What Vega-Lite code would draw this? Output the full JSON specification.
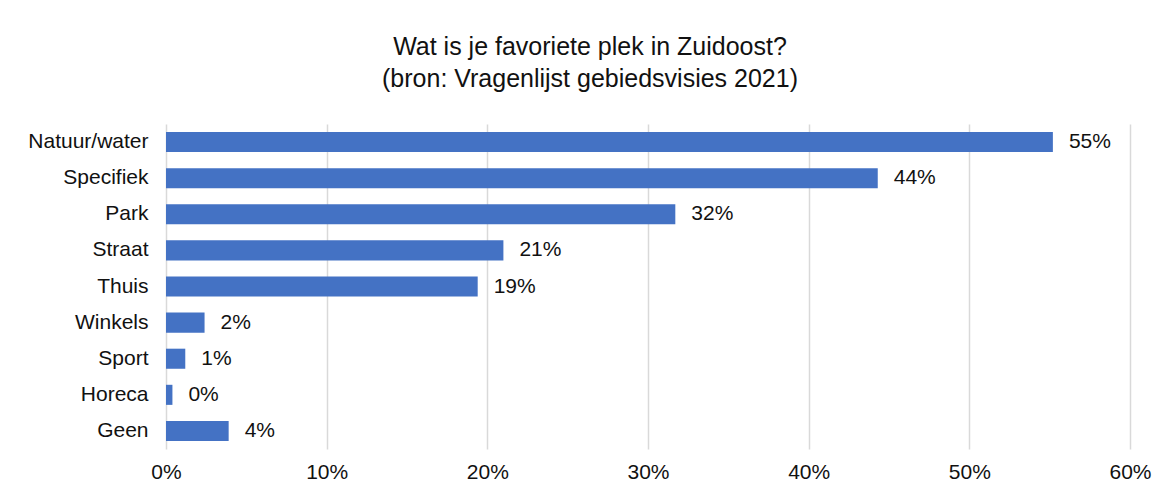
{
  "$schema": "https://vega.github.io/schema/vega-lite/v6.json",
  "autosize": {"type": "none"},
  "width": 964,
  "height": 325,
  "padding": {"left": 166, "top": 124, "right": 39, "bottom": 43},
  "background": "white",
  "title": {
    "text": ["Wat is je favoriete plek in Zuidoost?", "(bron: Vragenlijst gebiedsvisies 2021)"],
    "font": "Liberation Sans",
    "fontSize": 25,
    "fontWeight": "normal",
    "color": "#111111",
    "anchor": "middle",
    "dx": -58,
    "lineHeight": 32,
    "offset": 32
  },
  "data": {
    "values": [
      {"plek": "Natuur/water", "aandeel": 0.552},
      {"plek": "Specifiek", "aandeel": 0.443},
      {"plek": "Park", "aandeel": 0.317},
      {"plek": "Straat", "aandeel": 0.21},
      {"plek": "Thuis", "aandeel": 0.194},
      {"plek": "Winkels", "aandeel": 0.024},
      {"plek": "Sport", "aandeel": 0.012},
      {"plek": "Horeca", "aandeel": 0.004},
      {"plek": "Geen", "aandeel": 0.039}
    ]
  },
  "encoding": {
    "y": {
      "field": "plek",
      "type": "nominal",
      "sort": null,
      "title": null,
      "scale": {"paddingInner": 0.444, "paddingOuter": 0.222},
      "axis": {
        "domain": false,
        "ticks": false,
        "labelFont": "Liberation Sans",
        "labelFontSize": 21,
        "labelColor": "#111111",
        "labelPadding": 18
      }
    },
    "x": {
      "field": "aandeel",
      "type": "quantitative",
      "title": null,
      "scale": {"domain": [0, 0.6], "nice": false},
      "axis": {
        "values": [0, 0.1, 0.2, 0.3, 0.4, 0.5, 0.6],
        "format": ".0%",
        "domain": false,
        "ticks": false,
        "grid": true,
        "gridColor": "#d9d9d9",
        "gridWidth": 1.5,
        "labelFlush": false,
        "labelFont": "Liberation Sans",
        "labelFontSize": 21,
        "labelColor": "#111111",
        "labelPadding": 12
      }
    }
  },
  "layer": [
    {"mark": {"type": "bar", "color": "#4472C4"}},
    {
      "mark": {
        "type": "text",
        "align": "left",
        "baseline": "middle",
        "dx": 16,
        "font": "Liberation Sans",
        "fontSize": 21,
        "color": "#111111"
      },
      "encoding": {"text": {"field": "aandeel", "type": "quantitative", "format": ".0%"}}
    }
  ],
  "config": {"view": {"stroke": null}}
}
